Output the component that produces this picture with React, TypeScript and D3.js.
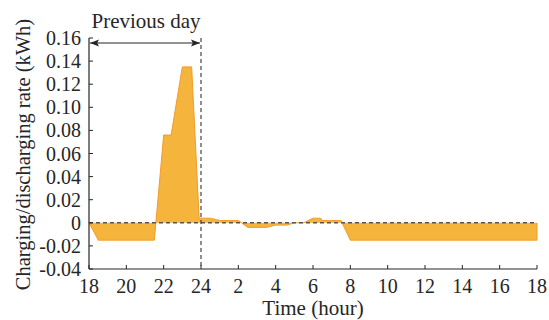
import React from 'react';
import * as d3 from 'd3';

// hours counted from 18:00 of the previous day (24 = midnight, 42 = 18:00)
const hours = [18, 18.5, 21.5, 22, 22.4, 23, 23.5, 23.9, 24, 24.5, 25, 26, 26.5, 27.5, 28, 28.6, 29, 29.5, 30, 30.4, 30.5, 31.5, 32, 42];
const rates = [0, -0.015, -0.015, 0.076, 0.076, 0.135, 0.135, 0.004, 0.004, 0.004, 0.002, 0.002, -0.004, -0.004, -0.002, -0.002, 0, 0, 0.004, 0.004, 0.002, 0.002, -0.015, -0.015];

const xTicks = [18, 20, 22, 24, 26, 28, 30, 32, 34, 36, 38, 40, 42];
const xTickLabels = ['18', '20', '22', '24', '2', '4', '6', '8', '10', '12', '14', '16', '18'];
const yTicks = [-0.04, -0.02, 0, 0.02, 0.04, 0.06, 0.08, 0.1, 0.12, 0.14, 0.16];
const yTickLabels = ['-0.04', '-0.02', '0', '0.02', '0.04', '0.06', '0.08', '0.10', '0.12', '0.14', '0.16'];

const W = 549;
const H = 320;
const left = 89, right = 537, top = 38, bottom = 269;
const font = 'Liberation Serif, Times New Roman, serif';
const ink = '#262626';

const App = () => {
  const x = d3.scaleLinear().domain([18, 42]).range([left, right]);
  const y = d3.scaleLinear().domain([-0.04, 0.16]).range([bottom, top]);

  const pts = hours.map((h, i) => [h, rates[i]] as [number, number]);

  const areaGen = d3.area<[number, number]>()
    .x(d => x(d[0]))
    .y0(y(0))
    .y1(d => y(d[1]));
  const lineGen = d3.line<[number, number]>()
    .x(d => x(d[0]))
    .y(d => y(d[1]));

  const arrowY = 43;

  return (
    <svg width={W} height={H} style={{ position: 'absolute', left: 0, top: 0, background: '#fff', fontFamily: font }}>
      <defs>
        <marker id="ah" viewBox="0 0 10 10" refX="10" refY="5" markerWidth="9" markerHeight="9" orient="auto-start-reverse" markerUnits="userSpaceOnUse">
          <path d="M0,1 L10,5 L0,9 L2,5 Z" fill={ink} />
        </marker>
      </defs>

      {/* filled rate area */}
      <path d={areaGen(pts) || ''} fill="#F5B43C" stroke="none" />
      <path d={lineGen(pts) + `L${x(42)},${y(0)}`} fill="none" stroke="#F39B2A" strokeWidth={1} />

      {/* zero line and midnight marker */}
      <line x1={left} x2={right} y1={y(0)} y2={y(0)} stroke="#555" strokeWidth={1.4} strokeDasharray="4,3" />
      <line x1={x(24)} x2={x(24)} y1={top} y2={bottom} stroke="#444" strokeWidth={1.2} strokeDasharray="4,3" />

      {/* axes */}
      <line x1={left} x2={left} y1={top} y2={bottom} stroke={ink} strokeWidth={1.2} />
      <line x1={left} x2={right} y1={bottom} y2={bottom} stroke={ink} strokeWidth={1.2} />

      {yTicks.map((t, i) => (
        <g key={'y' + i}>
          <line x1={left} x2={left + 4} y1={y(t)} y2={y(t)} stroke={ink} strokeWidth={1} />
          <text x={left - 8} y={y(t)} dy="0.35em" textAnchor="end" fontSize={20} fill={ink}>
            {yTickLabels[i]}
          </text>
        </g>
      ))}

      {xTicks.map((t, i) => (
        <g key={'x' + i}>
          <line x1={x(t)} x2={x(t)} y1={bottom} y2={bottom - 4} stroke={ink} strokeWidth={1} />
          <text x={x(t)} y={293} textAnchor="middle" fontSize={20} fill={ink}>
            {xTickLabels[i]}
          </text>
        </g>
      ))}

      <text x={(left + right) / 2} y={315} textAnchor="middle" fontSize={21} fill={ink}>
        Time (hour)
      </text>
      <text transform={`translate(30,${(top + bottom) / 2 + 1}) rotate(-90)`} textAnchor="middle" fontSize={20.5} fill={ink}>
        Charging/discharging rate (kWh)
      </text>

      {/* previous day annotation */}
      <line x1={left + 1} x2={x(24) - 1} y1={arrowY} y2={arrowY} stroke={ink} strokeWidth={1.2} markerStart="url(#ah)" markerEnd="url(#ah)" />
      <text x={(left + x(24)) / 2 + 1} y={28} textAnchor="middle" fontSize={21} fill={ink}>
        Previous day
      </text>
    </svg>
  );
};

export default App;
